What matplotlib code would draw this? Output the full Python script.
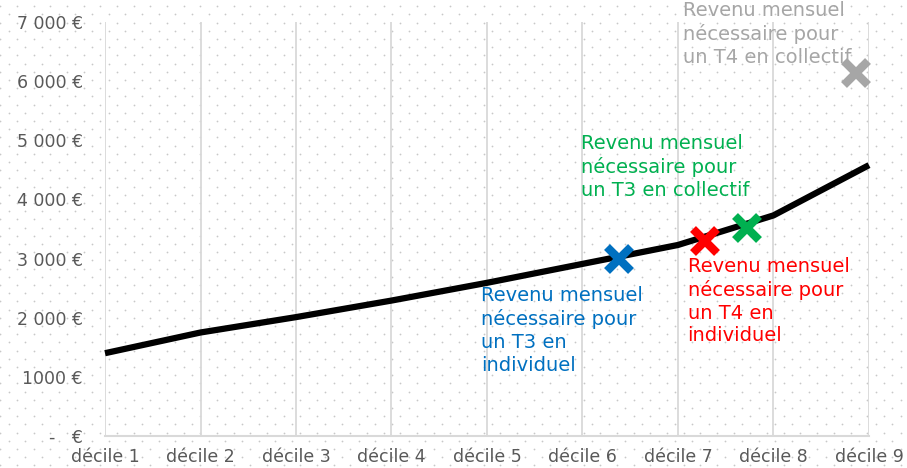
import matplotlib
matplotlib.use("Agg")
import matplotlib.pyplot as plt
import numpy as np

plt.rcParams['font.family'] = ['DejaVu Sans']

# data
deciles = [1, 2, 3, 4, 5, 6, 7, 8, 9]
decile_labels = ['décile %d' % d for d in deciles]
revenu = [1400, 1750, 2010, 2290, 2590, 2910, 3230, 3730, 4580]

yticks = [0, 1000, 2000, 3000, 4000, 5000, 6000, 7000]
ytick_labels = ['-   €', '1000 €', '2 000 €', '3 000 €', '4 000 €', '5 000 €', '6 000 €', '7 000 €']

marker_x = [6.38, 7.28, 7.72, 8.86]
marker_y = [3000, 3290, 3525, 6135]
marker_colors = ['#0070c0', '#ff0000', '#00b050', '#a6a6a6']
marker_texts = ['Revenu mensuel\nnécessaire pour\nun T3 en\nindividuel',
                'Revenu mensuel\nnécessaire pour\nun T4 en\nindividuel',
                'Revenu mensuel\nnécessaire pour\nun T3 en collectif',
                'Revenu mensuel\nnécessaire pour\nun T4 en collectif']
# text anchor (top-left) in data coords
text_x = [4.94, 7.1, 5.98, 7.05]
text_y = [2530, 3030, 5100, 7350]

fig = plt.figure(figsize=(9.07, 4.68), dpi=100)

# dotted background over the whole figure
bg = fig.add_axes([0, 0, 1, 1], zorder=0)
bg.set_xlim(0, 907)
bg.set_ylim(468, 0)
bg.axis('off')
px, py = [], []
for r, yy in enumerate(np.arange(-2, 470, 8.2)):
    off = 0 if r % 2 == 0 else 8.33
    for xx in np.arange(-8 + off, 910, 16.67):
        px.append(xx)
        py.append(yy)
bg.scatter(px, py, s=1.6, color='#c8c8c8', linewidths=0)

ax = fig.add_axes([105/907, 1 - 436/468, (869-105)/907, (436-22)/468], zorder=1)
ax.set_facecolor('none')
ax.set_xlim(1, 9)
ax.set_ylim(0, 7000)
for s in ['top', 'right', 'left']:
    ax.spines[s].set_visible(False)
ax.spines['bottom'].set_color('#d9d9d9')
ax.spines['bottom'].set_linewidth(1.5)
ax.set_xticks(deciles)
ax.set_xticklabels(decile_labels)
ax.set_yticks(yticks)
ax.set_yticklabels(ytick_labels)
ax.tick_params(length=0, labelsize=12.5, labelcolor='#595959')
ax.tick_params(axis='x', pad=9)
ax.tick_params(axis='y', pad=16)
ax.grid(axis='x', color='#d9d9d9', linewidth=1.3)
ax.set_axisbelow(True)

ax.plot(deciles, revenu, color='black', linewidth=4.5, solid_capstyle='butt', zorder=3, clip_on=False)

for x, y, c in zip(marker_x, marker_y, marker_colors):
    ax.plot(x, y, marker='x', markersize=17, markeredgewidth=6, color=c, zorder=4, clip_on=False)

for tx, ty, t, c in zip(text_x, text_y, marker_texts, marker_colors):
    ax.text(tx, ty, t, color=c, fontsize=14, va='top', ha='left', linespacing=1.25, zorder=5, clip_on=False)

fig.savefig('out.png', dpi=100)
